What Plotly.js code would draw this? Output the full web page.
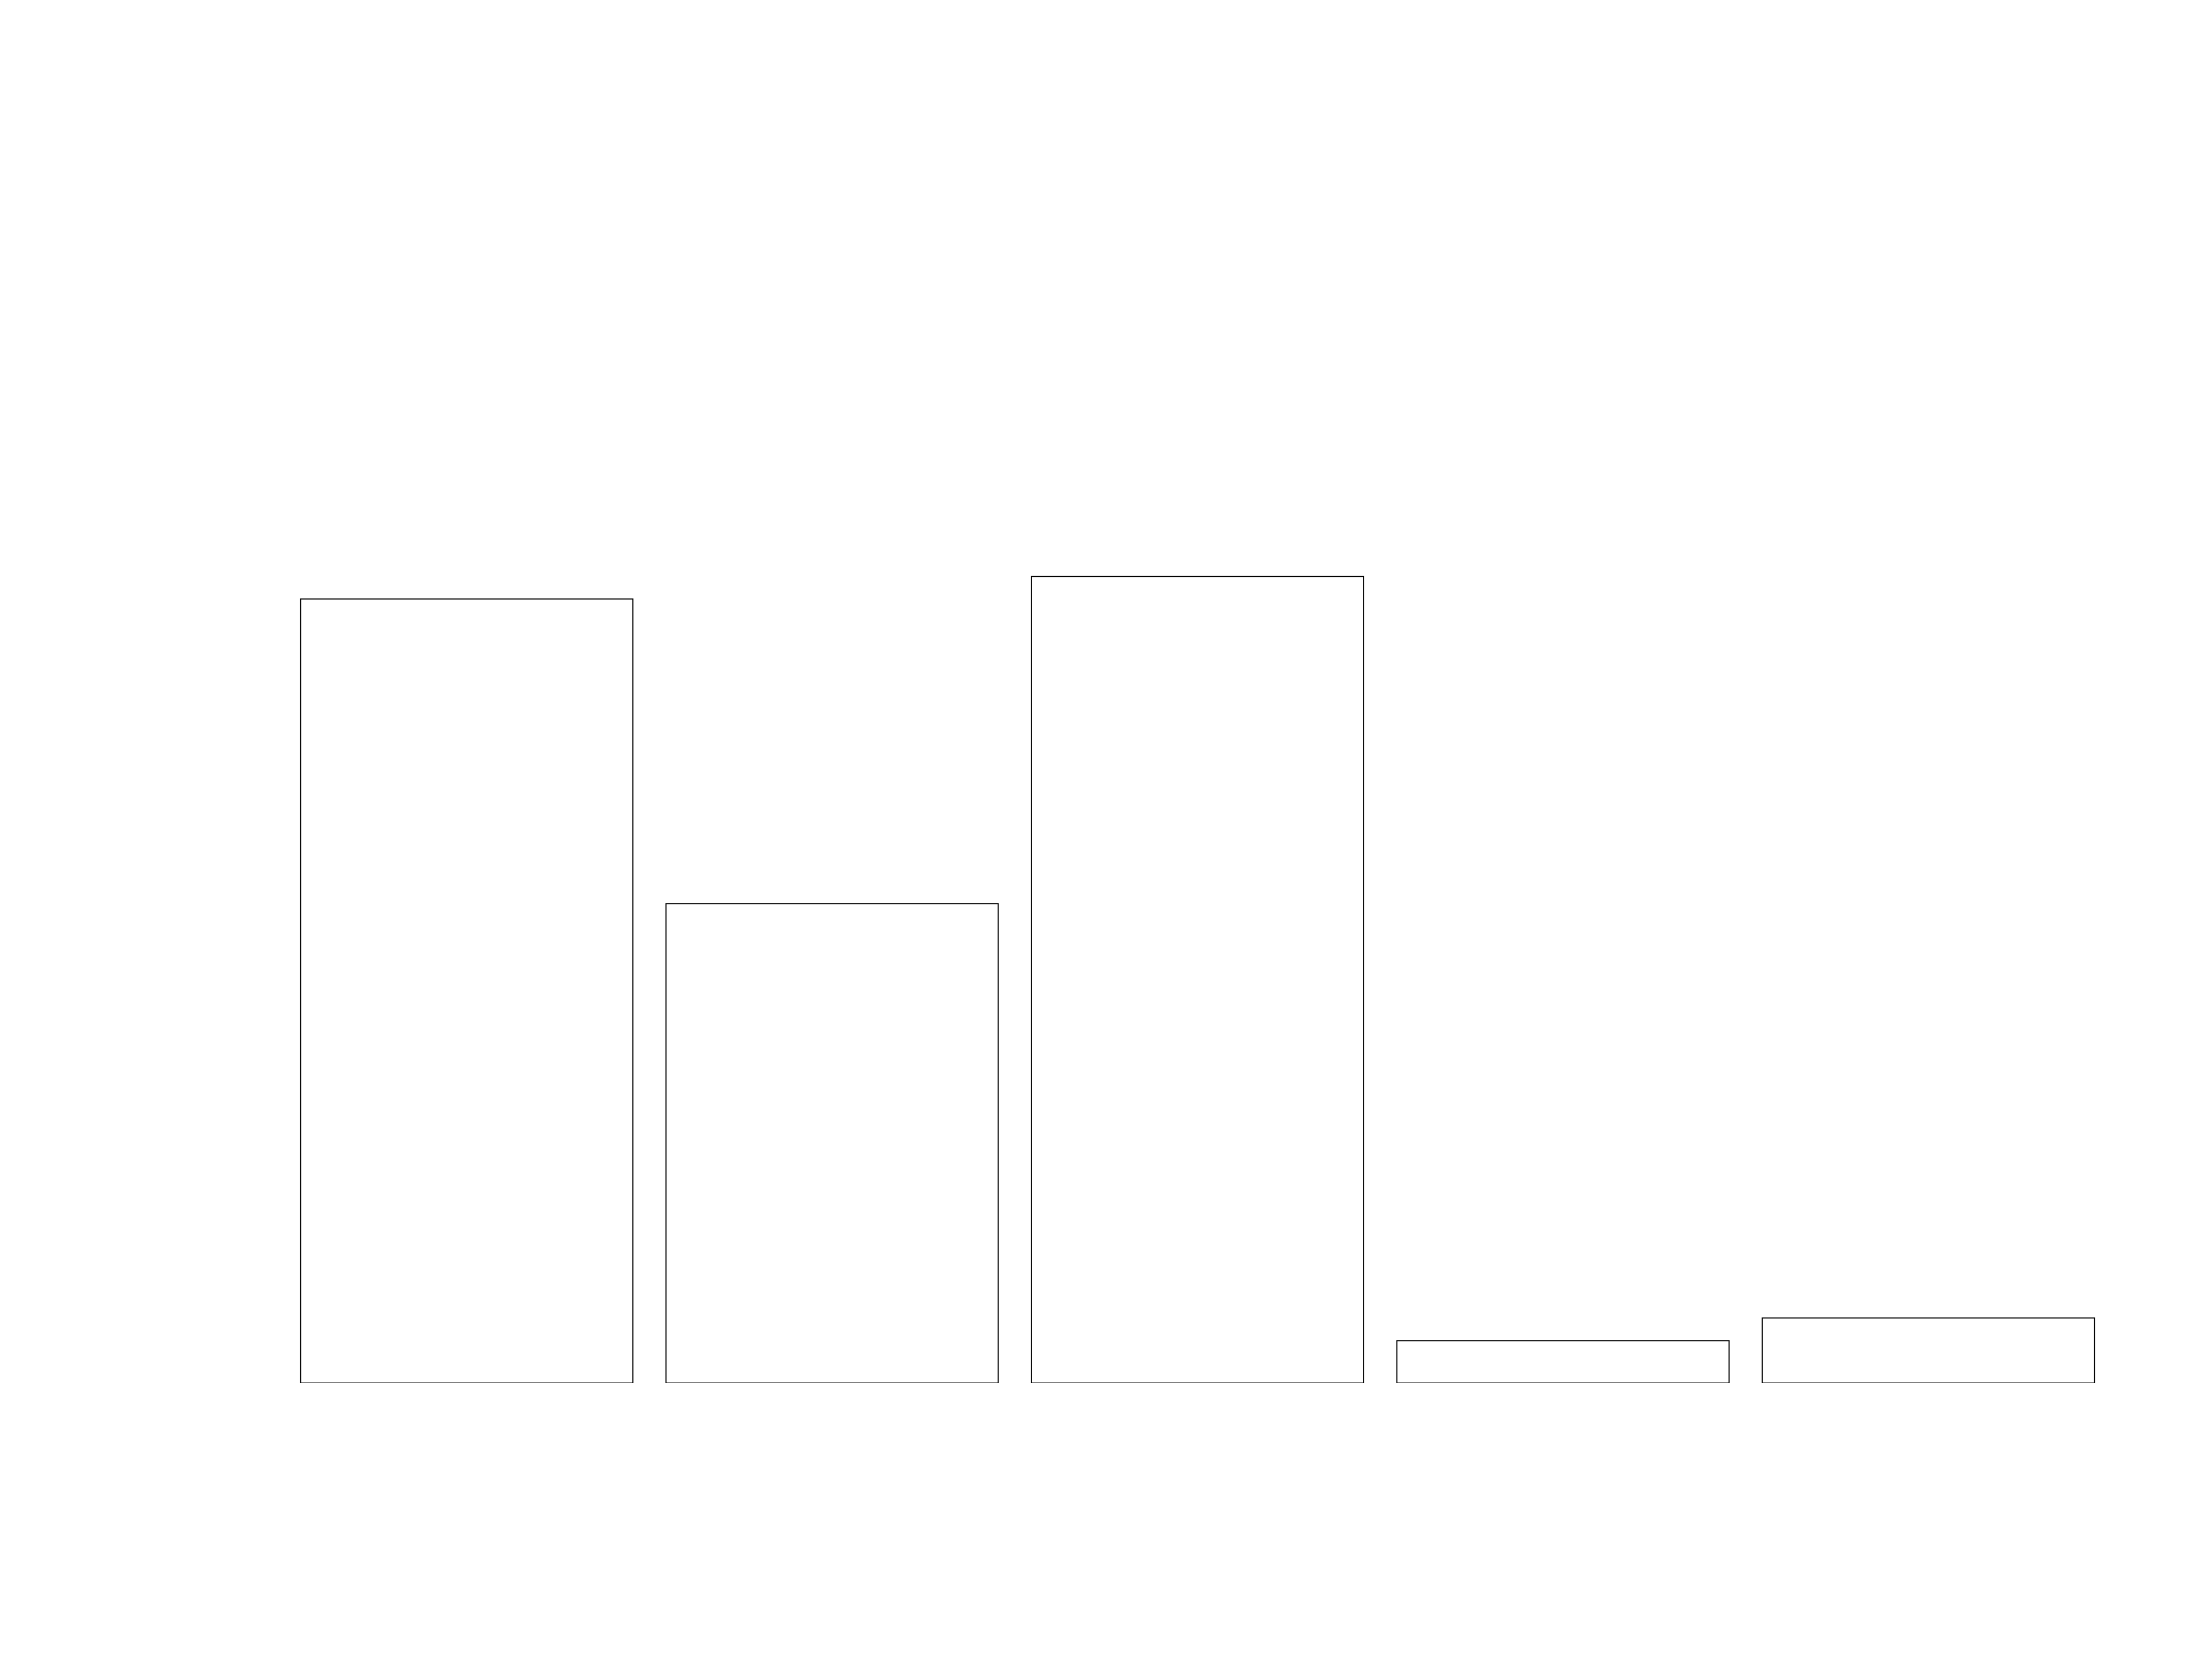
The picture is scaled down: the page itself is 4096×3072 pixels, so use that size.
<!DOCTYPE html>
<html>
<head>
<meta charset="utf-8">
<script src="https://cdn.plot.ly/plotly-3.0.1.min.js"></script>
<style>html,body{margin:0;padding:0;background:#fff;}#chart{width:4096px;height:3072px;}</style>
</head>
<body>
<div id="chart"></div>
<script>
const categories = ["A", "B", "C", "D", "E"];
const values = [34.73, 21.24, 35.73, 1.88, 2.88];

const trace = {
  type: "bar",
  x: categories,
  y: values,
  marker: { color: "#ffffff", line: { color: "#000000", width: 2 } },
  hoverinfo: "none"
};

const layout = {
  width: 4096,
  height: 3072,
  autosize: false,
  showlegend: false,
  paper_bgcolor: "#ffffff",
  plot_bgcolor: "#ffffff",
  bargap: 0.0908,
  margin: { l: 525.7, r: 186.8, t: 889, b: 510.5, pad: 0 },
  xaxis: { type: "category", range: [-0.5, 4.5], showgrid: false, zeroline: false, showline: false, showticklabels: false, ticks: "" },
  yaxis: { range: [0, 40], showgrid: false, zeroline: false, showline: false, showticklabels: false, ticks: "" }
};

Plotly.newPlot("chart", [trace], layout, { staticPlot: true, displayModeBar: false });
</script>
</body>
</html>
